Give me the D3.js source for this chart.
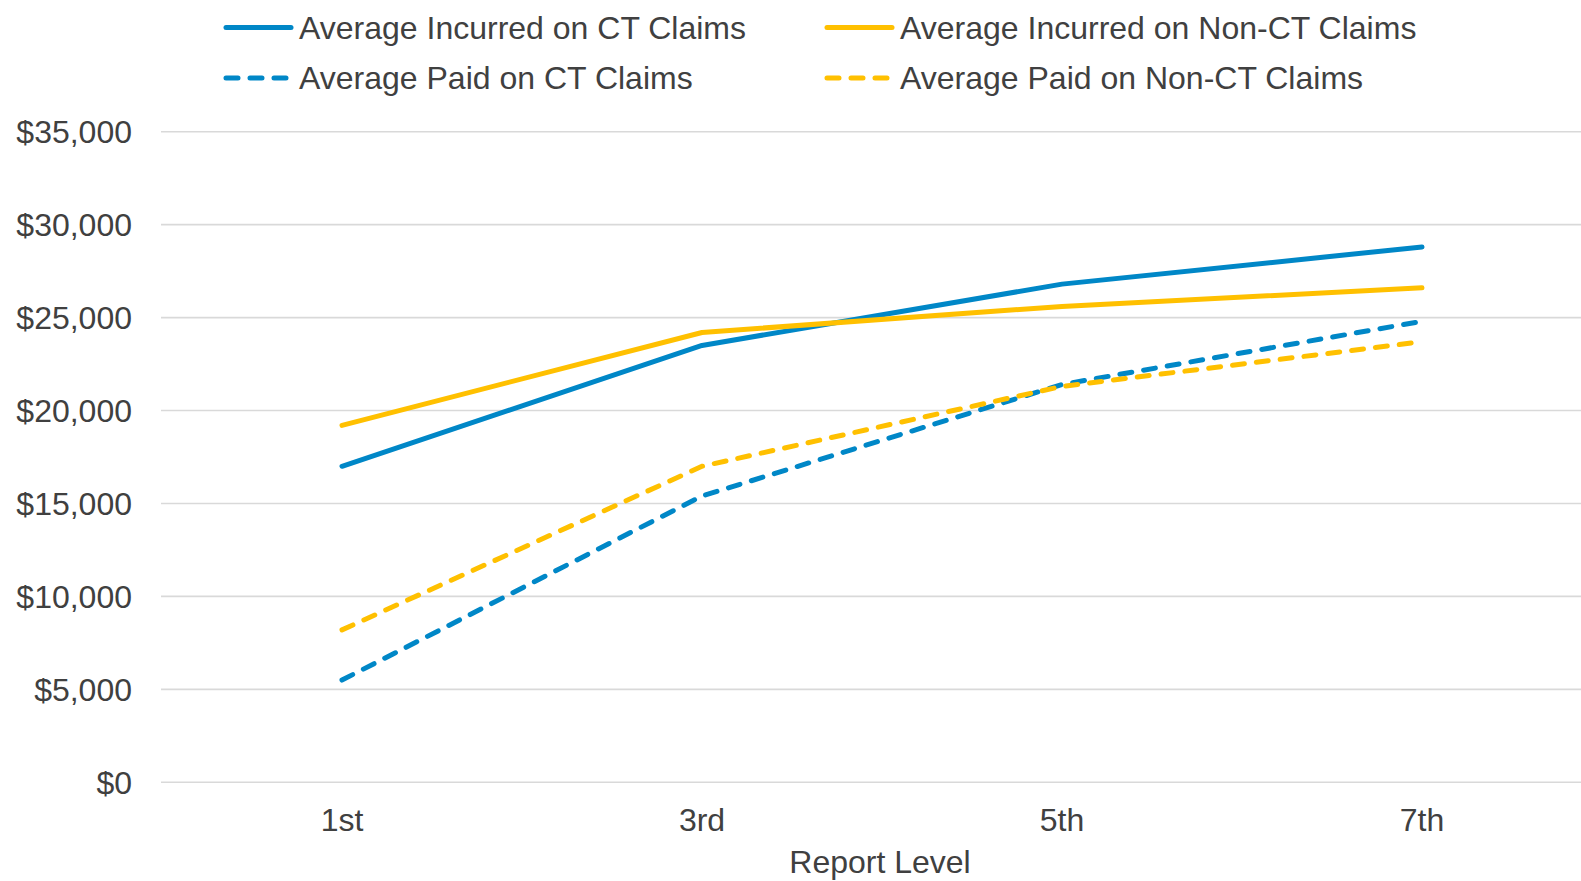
<!DOCTYPE html>
<html>
<head>
<meta charset="utf-8">
<title>Average Incurred and Paid by Report Level</title>
<script src="https://d3js.org/d3.v7.min.js"></script>
<style>
  html, body { margin: 0; padding: 0; background: #fff; }
  svg { display: block; }
  text { font-family: "Liberation Sans", Arial, sans-serif; fill: #404040; font-size: 32px; }
  .grid line { stroke: #d9d9d9; stroke-width: 1.6; }
</style>
</head>
<body>
<svg id="chart"></svg>
<script>
// data
var levels = ["1st", "3rd", "5th", "7th"];
var incurredCT    = [17000, 23500, 26800, 28800];
var incurredNonCT = [19200, 24200, 25600, 26600];
var paidCT        = [5500, 15400, 21400, 24800];
var paidNonCT     = [8200, 17000, 21300, 23700];
var yTicks = [0, 5000, 10000, 15000, 20000, 25000, 30000, 35000];

var width = 1581, height = 881;
var blue = "#0087c7", gold = "#ffc000";

var series = [
  { name: "Average Incurred on CT Claims",     values: incurredCT,    color: blue, dash: null },
  { name: "Average Incurred on Non-CT Claims", values: incurredNonCT, color: gold, dash: null },
  { name: "Average Paid on CT Claims",         values: paidCT,        color: blue, dash: "12,12" },
  { name: "Average Paid on Non-CT Claims",     values: paidNonCT,     color: gold, dash: "12,12" }
];

var svg = d3.select("#chart").attr("width", width).attr("height", height);

// plot runs off the right edge a little, like the source image
var x = d3.scaleBand().domain(levels).range([162, 1602]);
var y = d3.scaleLinear().domain([0, 35000]).range([782.3, 131.7]);
var fmt = d3.format("$,");

// gridlines
svg.append("g").attr("class", "grid")
  .selectAll("line")
  .data(yTicks)
  .enter().append("line")
    .attr("x1", 161).attr("x2", width)
    .attr("y1", function(d) { return y(d); })
    .attr("y2", function(d) { return y(d); });

// y labels
svg.append("g")
  .selectAll("text")
  .data(yTicks)
  .enter().append("text")
    .attr("x", 132)
    .attr("y", function(d) { return y(d); })
    .attr("dy", "0.35em")
    .attr("text-anchor", "end")
    .text(function(d) { return fmt(d); });

// x labels
svg.append("g")
  .selectAll("text")
  .data(levels)
  .enter().append("text")
    .attr("x", function(d) { return x(d) + x.bandwidth() / 2; })
    .attr("y", 820)
    .attr("dy", "0.35em")
    .attr("text-anchor", "middle")
    .text(function(d) { return d; });

svg.append("text")
  .attr("x", 880).attr("y", 862)
  .attr("dy", "0.35em")
  .attr("text-anchor", "middle")
  .text("Report Level");

// lines
var line = d3.line()
  .x(function(d, i) { return x(levels[i]) + x.bandwidth() / 2; })
  .y(function(d) { return y(d); });

svg.append("g")
  .selectAll("path")
  .data(series)
  .enter().append("path")
    .attr("d", function(s) { return line(s.values); })
    .attr("fill", "none")
    .attr("stroke", function(s) { return s.color; })
    .attr("stroke-width", 5)
    .attr("stroke-linecap", "round")
    .attr("stroke-linejoin", "round")
    .attr("stroke-dasharray", function(s) { return s.dash; });

// legend, two columns x two rows
var legendPos = [[224, 27.5], [825, 27.5], [224, 78], [825, 78]];
var legend = svg.append("g")
  .selectAll("g")
  .data(series)
  .enter().append("g")
    .attr("transform", function(d, i) { return "translate(" + legendPos[i][0] + "," + legendPos[i][1] + ")"; });

legend.append("line")
  .attr("x1", 2).attr("x2", function(s) { return s.dash ? 64 : 67; })
  .attr("y1", 0).attr("y2", 0)
  .attr("stroke", function(s) { return s.color; })
  .attr("stroke-width", 5)
  .attr("stroke-linecap", "round")
  .attr("stroke-dasharray", function(s) { return s.dash; });

legend.append("text")
  .attr("x", 75)
  .attr("y", 0)
  .attr("dy", "0.35em")
  .text(function(s) { return s.name; });
</script>
</body>
</html>
